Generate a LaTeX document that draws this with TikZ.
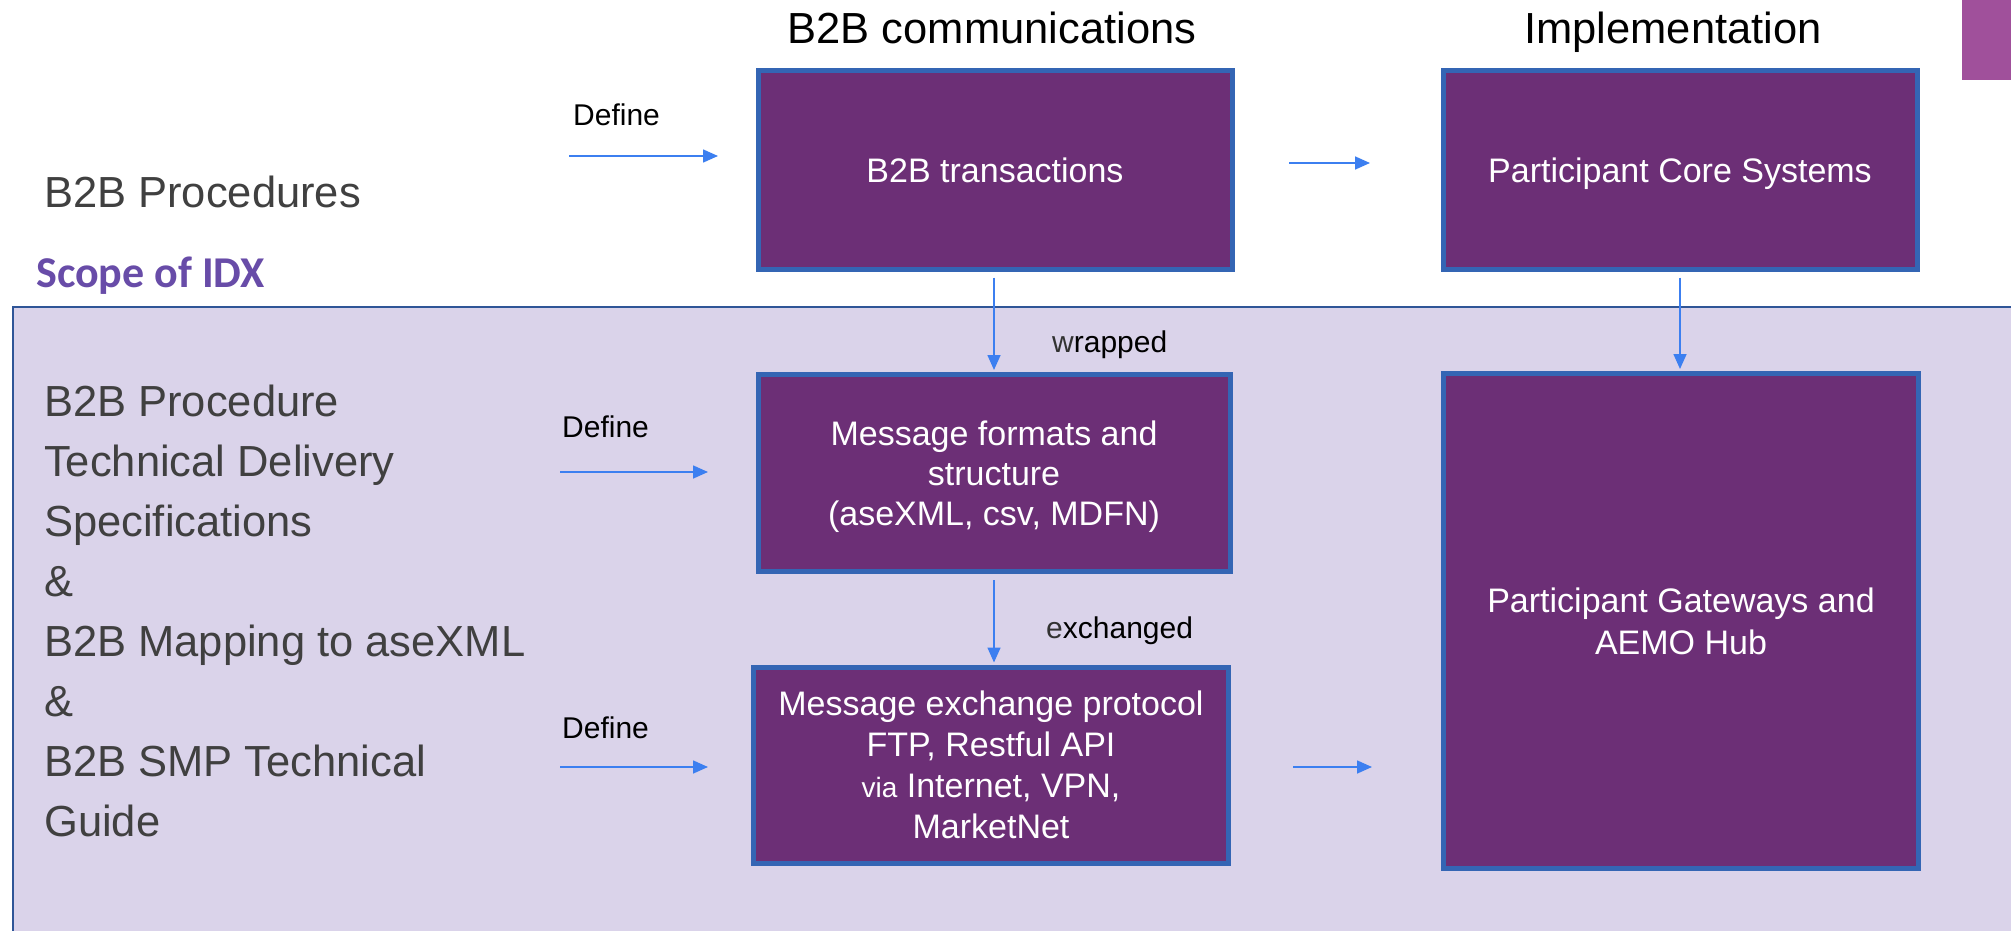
\documentclass[tikz,border=0pt]{standalone}
\usepackage{fontspec}
\setmainfont{Liberation Sans}
\newfontfamily\scopefont{Carlito}
\usetikzlibrary{arrows.meta}
\definecolor{boxfill}{RGB}{108,47,118}
\definecolor{boxline}{RGB}{52,101,180}
\definecolor{lav}{RGB}{218,211,234}
\definecolor{lavline}{RGB}{47,85,151}
\definecolor{arr}{RGB}{60,127,240}
\definecolor{scopecol}{RGB}{104,76,168}
\definecolor{pinkbar}{RGB}{160,80,155}
\definecolor{graytxt}{RGB}{64,64,64}
\definecolor{firstletter}{RGB}{50,50,50}
\begin{document}
\begin{tikzpicture}[x=1pt,y=-1pt,
  pbox/.style={draw=boxline, line width=5pt, fill=boxfill, text=white, font=\fontsize{34}{42}\selectfont, align=center, inner sep=0pt},
  flow/.style={draw=arr, line width=1.6pt, -{Triangle[length=15pt,width=13pt]}},
  lbl/.style={font=\fontsize{30}{36}\selectfont, anchor=base west, inner sep=0pt},
  title/.style={font=\fontsize{43.5}{52}\selectfont, anchor=base, inner sep=0pt},
  lefttxt/.style={font=\fontsize{43.5}{60}\selectfont, text=graytxt, inner sep=0pt},
]
\useasboundingbox (0,0) rectangle (2011,931);
\fill[white] (0,0) rectangle (2011,931);
\fill[pinkbar] (1962,0) rectangle (2011,80);
\filldraw[fill=lav, draw=lavline, line width=1.5pt] (13,307) rectangle (2040,960);

% titles
\node[title] (t1) at (992,44) {B2B communications};
\node[title] (t2) at (1673,44) {Implementation};

% left texts
\node[lefttxt, anchor=base west] (proc) at (44,207) {B2B Procedures};
\node[font=\fontsize{44}{52}\selectfont\scopefont\bfseries, text=scopecol, anchor=base west, inner sep=0pt] (scope) at (36,287) {Scope of IDX};
\node[lefttxt, anchor=north west, align=left] (spec) at (44,385) {B2B Procedure\\Technical Delivery\\Specifications\\\&\\B2B Mapping to aseXML\\\&\\B2B SMP Technical\\Guide};

% boxes
\node[pbox, minimum width=474pt, minimum height=198pt, text height=25pt, text depth=0pt] (trans) at (995,170) {B2B transactions};
\node[pbox, minimum width=474pt, minimum height=198pt, text height=25pt, text depth=0pt] (core) at (1680,170) {Participant Core Systems};
\node[pbox, minimum width=472pt, minimum height=197pt, font=\fontsize{34}{40}\selectfont, text depth=0pt] (fmt) at (994,473) {Message formats and\\structure\\(aseXML, csv, MDFN)};
\node[pbox, minimum width=475pt, minimum height=196pt, font=\fontsize{34}{41}\selectfont] (exch) at (991,765) {Message exchange protocol\\FTP, Restful API\\{\fontsize{28}{41}\selectfont via} Internet, VPN,\\MarketNet};
\node[pbox, minimum width=475pt, minimum height=495pt] (gate) at (1681,621) {Participant Gateways and\\AEMO Hub};

% labels
\node[lbl] (def1) at (573,126) {Define};
\node[lbl] (def2) at (562,437) {Define};
\node[lbl] (def3) at (562,738) {Define};
\node[lbl] (wrp) at (1052,352) {{\color{firstletter}w}rapped};
\node[lbl] (exc) at (1046,638) {{\color{firstletter}e}xchanged};

% free arrow ends
\coordinate (d1s) at (569,156);
\coordinate (d1e) at (718,156);
\coordinate (d2s) at (560,472);
\coordinate (d2e) at (708,472);
\coordinate (d3s) at (560,767);
\coordinate (d3e) at (708,767);
\coordinate (h1s) at (1289,163);
\coordinate (h1e) at (1370,163);
\coordinate (h2s) at (1293,767);
\coordinate (h2e) at (1372,767);

\draw[flow] (d1s) -- (d1e);
\draw[flow] (d2s) -- (d2e);
\draw[flow] (d3s) -- (d3e);
\draw[flow] (h1s) -- (h1e);
\draw[flow] (h2s) -- (h2e);
\draw[flow, shorten <=6pt, shorten >=2pt] ([xshift=-1pt]trans.south) -- ([xshift=-1pt]trans.south |- fmt.north);
\draw[flow, shorten <=6pt, shorten >=2pt] (fmt.south) -- (fmt.south |- exch.north);
\draw[flow, shorten <=6pt, shorten >=2pt] (core.south) -- (core.south |- gate.north);
\end{tikzpicture}
\end{document}
